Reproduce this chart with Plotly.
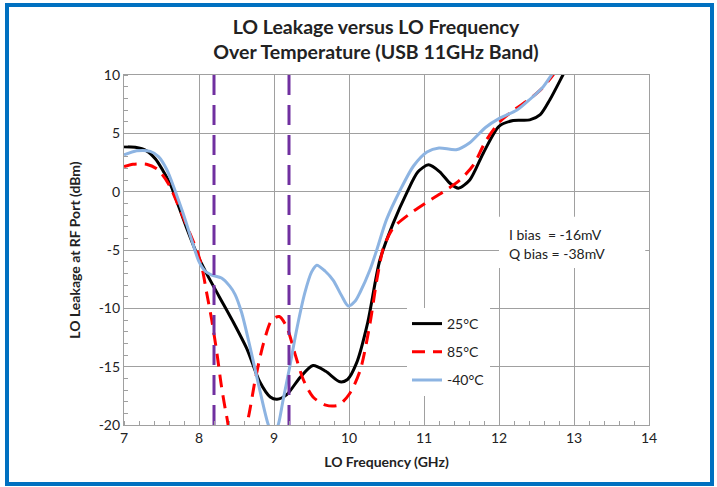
import plotly.graph_objects as go

# ---- data ----
x_25 = [7.0, 7.15, 7.3, 7.42, 7.52, 7.62, 7.72, 7.84, 7.97, 8.10, 8.27, 8.45, 8.64, 8.81, 8.95, 9.04, 9.17,
        9.35, 9.52, 9.69, 9.88, 9.98, 10.1, 10.25, 10.41, 10.59, 10.77, 10.92, 11.06, 11.21, 11.35,
        11.46, 11.61, 11.79, 12.0, 12.19, 12.41, 12.55, 12.68, 12.86, 12.95]
y_25 = [3.85, 3.8, 3.5, 2.8, 1.8, 0.6, -1.1, -3.2, -5.3, -7.0, -9.0, -11.1, -13.5, -16.3, -17.6, -17.8, -17.4,
        -15.9, -14.9, -15.4, -16.3, -16.1, -14.7, -11.2, -5.9, -2.7, -0.1, 1.7, 2.3, 1.7, 0.7,
        0.3, 1.0, 3.3, 5.6, 6.1, 6.15, 6.6, 7.9, 10.1, 11.2]

x_85 = [7.0, 7.12, 7.3, 7.45, 7.6, 7.75, 7.88, 7.97, 8.04, 8.1, 8.17, 8.24, 8.30, 8.37, 8.45, 8.57, 8.66,
        8.75, 8.86, 8.97, 9.07, 9.17, 9.28, 9.39, 9.52, 9.69, 9.86, 10.01, 10.15, 10.28, 10.37, 10.46,
        10.59, 10.81, 11.04, 11.26, 11.48, 11.66, 11.82, 12.01, 12.2, 12.4, 12.55, 12.72, 12.85]
y_85 = [2.15, 2.35, 2.35, 1.9, 0.6, -1.6, -3.6, -5.0, -6.5, -8.6, -11.0, -13.9, -16.7, -19.3, -21.5, -21.5, -19.3,
        -16.1, -13.0, -11.0, -10.7, -11.6, -13.9, -16.1, -17.6, -18.3, -18.3, -17.3, -15.3, -11.3, -7.6, -4.8,
        -3.1, -1.9, -0.9, 0.0, 1.0, 2.3, 4.3, 6.0, 7.0, 7.9, 8.7, 10.0, 11.3]

x_m40 = [7.0, 7.17, 7.35, 7.46, 7.57, 7.68, 7.79, 7.90, 8.0, 8.08, 8.17, 8.30, 8.41, 8.48, 8.57, 8.68,
         8.81, 8.92, 8.99, 9.06, 9.12, 9.21, 9.30, 9.41, 9.50, 9.57, 9.68, 9.79, 9.90, 9.99, 10.08,
         10.15, 10.28, 10.37, 10.5, 10.68, 10.86, 11.04, 11.2, 11.43, 11.61, 11.82, 12.01, 12.24,
         12.41, 12.59, 12.7, 12.8]
y_m40 = [3.15, 3.5, 3.45, 3.0, 1.9, 0.1, -1.9, -4.1, -6.0, -6.8, -7.15, -7.4, -8.1, -8.8, -10.4, -13.3,
         -17.0, -19.9, -21.0, -19.9, -17.9, -15.0, -11.9, -8.7, -6.9, -6.3, -6.8, -7.6, -8.9, -9.8, -9.4,
         -8.6, -6.7, -5.0, -2.4, 0.1, 2.2, 3.4, 3.75, 3.6, 4.2, 5.5, 6.3, 7.0,
         7.9, 9.0, 10.0, 11.0]

band_edges = [8.2, 9.2]
x_ticks = [7, 8, 9, 10, 11, 12, 13, 14]
y_ticks = [10, 5, 0, -5, -10, -15, -20]

FONT = "Lato"
GRID = "#A0A0A0"
SMOOTH = 0.75

fig = go.Figure()

fig.add_trace(go.Scatter(x=x_25, y=y_25, mode="lines", name="25°C", legendgroup="a",
                         line=dict(color="black", width=3, shape="spline", smoothing=SMOOTH)))
fig.add_trace(go.Scatter(x=x_85, y=y_85, mode="lines", name="85°C", legendgroup="b",
                         line=dict(color="#FF0000", width=3, dash="13px,8px", shape="spline", smoothing=SMOOTH)))
fig.add_trace(go.Scatter(x=x_m40, y=y_m40, mode="lines", name="-40°C", legendgroup="c",
                         line=dict(color="#8DB4E2", width=3, shape="spline", smoothing=SMOOTH)))

for xe in band_edges:
    fig.add_trace(go.Scatter(x=[xe, xe], y=[-20, 10], mode="lines", showlegend=False,
                             line=dict(color="#7030A0", width=3, dash="20px,10px")))

# white box behind bias note (hides gridlines)
fig.add_shape(type="rect", xref="x", yref="y", x0=12.0, x1=13.95, y0=-6.55, y1=-2.15,
              fillcolor="white", line=dict(width=0), layer="between")
fig.add_annotation(xref="x", yref="y", x=12.1, y=-3.7, xanchor="left", yanchor="middle",
                   text="I bias  = -16mV", showarrow=False,
                   font=dict(family=FONT, size=14, color="#222"))
fig.add_annotation(xref="x", yref="y", x=12.1, y=-5.3, xanchor="left", yanchor="middle",
                   text="Q bias = -38mV", showarrow=False,
                   font=dict(family=FONT, size=14, color="#222"))

# outer blue frame
fig.add_shape(type="rect", xref="paper", yref="paper",
              x0=(7 - 124) / 525, x1=(712 - 124) / 525,
              y0=(425 - 484) / 350, y1=(425 - 5) / 350,
              line=dict(color="#0070C0", width=4), fillcolor="rgba(0,0,0,0)", layer="above")

fig.update_layout(
    width=717, height=487,
    margin=dict(l=124, r=68, t=75, b=62),
    paper_bgcolor="white", plot_bgcolor="white",
    title=dict(text="<b>LO Leakage versus LO Frequency<br>Over Temperature (USB 11GHz Band)</b>",
               x=376 / 717, xref="container", xanchor="center",
               y=1 - 34 / 487, yref="container", yanchor="middle",
               font=dict(family=FONT, size=19.5, color="#222")),
    showlegend=True,
    legend=dict(x=(407 - 124) / 525, y=(425 - 308) / 350, xanchor="left", yanchor="top",
                bgcolor="white", borderwidth=0, tracegroupgap=7,
                font=dict(family=FONT, size=14, color="#222")),
    font=dict(family=FONT, size=14, color="#222"),
)

fig.update_xaxes(range=[7, 14], tickvals=x_ticks, ticktext=[str(v) for v in x_ticks],
                 showgrid=True, gridcolor=GRID, gridwidth=1.2,
                 showline=True, linecolor=GRID, linewidth=1.2, mirror=True,
                 ticks="", zeroline=False,
                 minor=dict(dtick=0.2, ticks="inside", ticklen=4, tickcolor=GRID, showgrid=False),
                 tickfont=dict(family=FONT, size=14, color="#222"),
                 title=dict(text="<b>LO Frequency (GHz)</b>", standoff=12,
                            font=dict(family=FONT, size=14, color="#222")))
fig.update_yaxes(range=[-20, 10], tickvals=y_ticks, ticktext=[str(v) for v in y_ticks],
                 showgrid=True, gridcolor=GRID, gridwidth=1.2,
                 showline=True, linecolor=GRID, linewidth=1.2, mirror=True,
                 ticks="", zeroline=False,
                 minor=dict(dtick=1, ticks="inside", ticklen=4, tickcolor=GRID, showgrid=False),
                 tickfont=dict(family=FONT, size=14, color="#222"),
                 title=dict(text="<b>LO Leakage at RF Port (dBm)</b>", standoff=14,
                            font=dict(family=FONT, size=14, color="#222")))

fig.write_html("out.html")
